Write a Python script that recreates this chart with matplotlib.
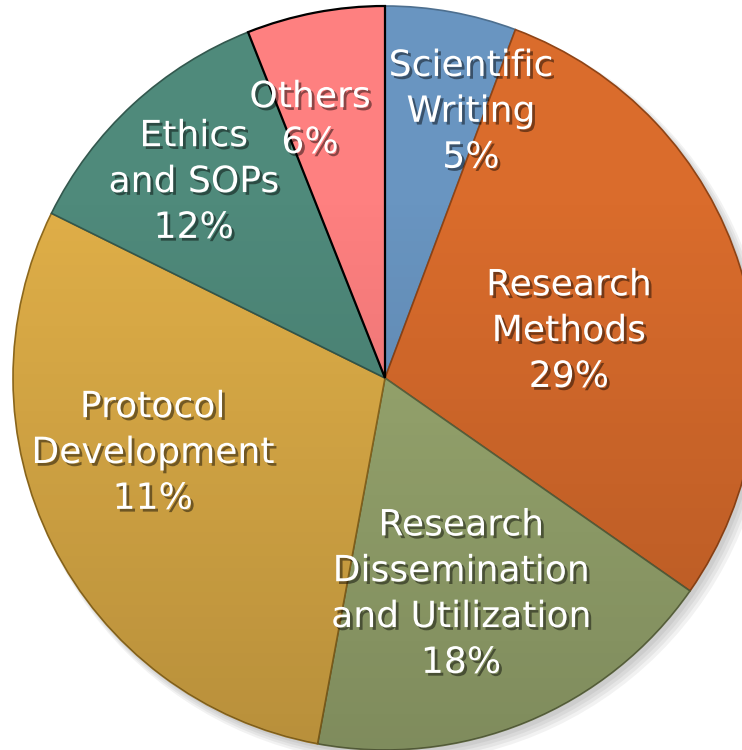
import numpy as np
import matplotlib
matplotlib.use("Agg")
import matplotlib.pyplot as plt
import matplotlib.patheffects as pe
from matplotlib.patches import Circle

# slice sizes (degrees converted to share of the circle)
topics = ["Scientific\nWriting", "Research\nMethods",
          "Research\nDissemination\nand Utilization", "Protocol\nDevelopment",
          "Ethics\nand SOPs", "Others"]
shares = [5.7, 29.0, 18.2, 29.4, 11.7, 6.0]
# percentages as printed on the chart
printed_pct = ["5%", "29%", "18%", "11%", "12%", "6%"]

colors = ["#6995c1", "#da6c2c", "#9baa71", "#e0af48", "#4f8a7b", "#fe8080"]
edges = ["#4d6f8f", "#8f4416", "#5d6640", "#8f6a1e", "#33584e", "#000000"]

# label placement: (distance from centre as radius fraction, angle in degrees)
label_pos = [(0.752, 72.1), (0.51, 14.3), (0.616, -70.6),
             (0.656, 197.9), (0.736, 134.3), (0.722, 106.2)]
line_step = 33  # points between label lines

fig = plt.figure(figsize=(7.42, 7.5), dpi=100)
R_px = 372
cx, cy = 385, 378
ax = fig.add_axes([(cx - R_px) / 742, (750 - cy - R_px) / 750,
                   2 * R_px / 742, 2 * R_px / 750])

# soft drop shadow under the pie
for i in range(4):
    ax.add_patch(Circle((0.01 + i * 0.004, -0.012 - i * 0.004), 1.0 + i * 0.004,
                        facecolor="#000000", alpha=0.05, edgecolor="none", zorder=0))

wedges, _ = ax.pie(shares, colors=colors, startangle=90, counterclock=False,
                   radius=1.0, wedgeprops=dict(linewidth=1.2))
for w, ec in zip(wedges, edges):
    w.set_edgecolor(ec)
    w.set_zorder(2)
wedges[-1].set_linewidth(1.6)
wedges[-1].set_zorder(3)

# lighting: slices get darker towards the bottom
n = 400
xx, yy = np.meshgrid(np.linspace(-1, 1, n), np.linspace(-1, 1, n))
rgba = np.zeros((n, n, 4))
rgba[..., 3] = np.clip(0.12 * (0.5 - yy), 0, 0.2)
img = ax.imshow(rgba, extent=(-1, 1, -1, 1), origin="lower", zorder=4)
img.set_clip_path(Circle((0, 0), 1.0, transform=ax.transData))

shadow = [pe.withSimplePatchShadow(offset=(2, -2), shadow_rgbFace="black", alpha=0.45)]
for (d, ang), name, pct in zip(label_pos, topics, printed_pct):
    t = np.deg2rad(ang)
    lines = name.split("\n") + [pct]
    k = len(lines)
    for j, line in enumerate(lines):
        dy = ((k - 1) / 2 - j) * line_step
        ax.annotate(line, (d * np.cos(t), d * np.sin(t)), xytext=(0, dy),
                    textcoords="offset points", ha="center", va="center",
                    fontsize=26, color="white", family="DejaVu Sans",
                    zorder=6, path_effects=shadow)

ax.set_xlim(-1, 1)
ax.set_ylim(-1, 1)
ax.set_aspect("equal")
ax.axis("off")

fig.savefig("out.png", dpi=100, facecolor="white")
